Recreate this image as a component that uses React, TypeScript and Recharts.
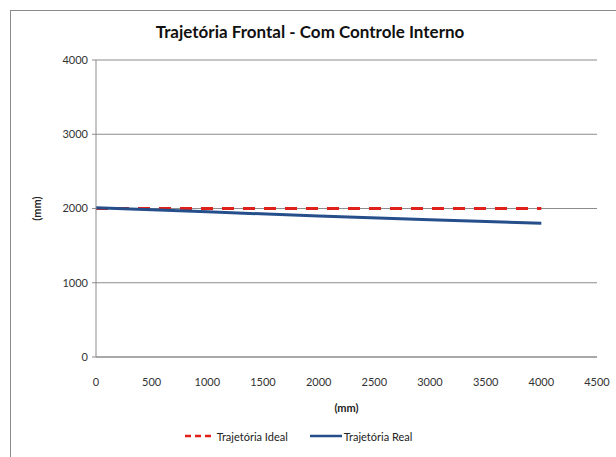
import React from "react";
import { LineChart, Line, XAxis, YAxis, CartesianGrid, Legend } from "recharts";

const idealX = [0, 4000];
const idealY = [2000, 2000];
const realX = [0, 1000, 2000, 3000, 4000];
const realY = [2010, 1955, 1900, 1850, 1800];
const xTicks = [0, 500, 1000, 1500, 2000, 2500, 3000, 3500, 4000, 4500];
const yTicks = [0, 1000, 2000, 3000, 4000];

const idealData = idealX.map((x, i) => ({ x, ideal: idealY[i] }));
const realData = realX.map((x, i) => ({ x, real: realY[i] }));

const FONT = "Lato, 'Open Sans', sans-serif";

const LegendContent = () => (
  <div style={{ display: "flex", justifyContent: "center", alignItems: "center", fontFamily: FONT, fontSize: 11, color: "#222", height: 14 }}>
    <svg width={30} height={6} style={{ marginRight: 2 }}>
      <line x1={0} y1={3} x2={30} y2={3} stroke="#e0201b" strokeWidth={2.5} strokeDasharray="6 4" />
    </svg>
    <span style={{ marginRight: 22 }}>Trajetória Ideal</span>
    <svg width={32} height={6} style={{ marginRight: 2 }}>
      <line x1={0} y1={3} x2={32} y2={3} stroke="#254e8a" strokeWidth={2.5} />
    </svg>
    <span>Trajetória Real</span>
  </div>
);

export default function App() {
  return (
    <div style={{ position: "absolute", left: 0, top: 0, width: 616, height: 457, background: "#fff", overflow: "hidden" }}>
      <div style={{ position: "absolute", left: 10, top: 10, width: 700, height: 600, borderTop: "1.5px solid #8a8a8a", borderLeft: "1.5px solid #8a8a8a" }} />
      <div style={{ position: "absolute", left: 0, top: 21, width: 620, textAlign: "center", fontFamily: FONT, fontWeight: 700, fontSize: 17, color: "#111" }}>
        Trajetória Frontal - Com Controle Interno
      </div>
      <div style={{ position: "absolute", left: 0, top: 0 }}>
        <LineChart width={616} height={457} margin={{ top: 60, right: 19, left: 0, bottom: 14 }}>
          <CartesianGrid horizontal={true} vertical={false} stroke="#8c8c8c" strokeWidth={1} />
          <XAxis
            dataKey="x"
            type="number"
            domain={[0, 4500]}
            ticks={xTicks}
            allowDuplicatedCategory={false}
            tickLine={false}
            stroke="#8c8c8c"
            tick={{ fill: "#333", fontSize: 11, fontFamily: FONT }}
            tickMargin={15}
            height={72}
            label={{ value: "(mm)", position: "insideBottom", offset: 17, style: { fontFamily: FONT, fontWeight: 700, fontSize: 11, fill: "#222" } }}
          />
          <YAxis
            type="number"
            domain={[0, 4000]}
            ticks={yTicks}
            width={96}
            tickSize={4}
            stroke="#8c8c8c"
            tick={{ fill: "#333", fontSize: 11, fontFamily: FONT }}
            tickMargin={4}
            label={{ value: "(mm)", angle: -90, position: "insideLeft", offset: 37, style: { fontFamily: FONT, fontWeight: 700, fontSize: 11, fill: "#222", textAnchor: "middle" } }}
          />
          <Legend verticalAlign="bottom" height={14} content={<LegendContent />} />
          <Line data={idealData} dataKey="ideal" name="Trajetória Ideal" stroke="#e0201b" strokeWidth={3} strokeDasharray="12 9" dot={false} isAnimationActive={false} />
          <Line data={realData} dataKey="real" name="Trajetória Real" stroke="#254e8a" strokeWidth={3} dot={false} isAnimationActive={false} />
        </LineChart>
      </div>
    </div>
  );
}
